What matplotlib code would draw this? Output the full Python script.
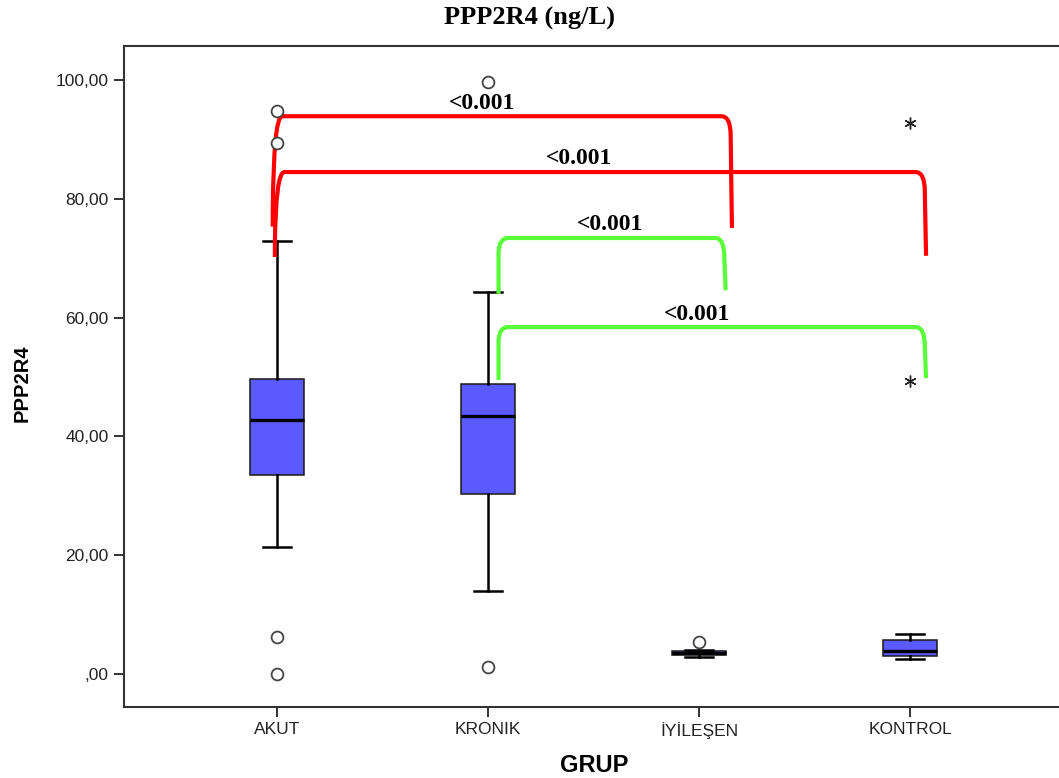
import matplotlib

matplotlib.use("Agg")
import matplotlib.pyplot as plt
from matplotlib.path import Path
from matplotlib.patches import PathPatch

# ---- data -----------------------------------------------------------------
groups = ["AKUT", "KRONIK", "İYİLEŞEN", "KONTROL"]
whisker_lo = [21.4, 14.0, 2.8, 2.5]
q1 = [33.5, 30.3, 3.2, 3.0]
median = [42.8, 43.4, 3.6, 3.8]
q3 = [49.7, 48.8, 3.9, 5.7]
whisker_hi = [72.9, 64.3, 4.0, 6.8]
outliers = [[94.8, 89.4, 6.2, 0.0], [99.7, 1.2], [5.3], []]
extremes = [[], [], [], [92.8, 49.3]]

# pairwise comparisons: left x, right x, bar height, left foot, right foot
cmp_x0 = [0.98, 0.99, 2.05, 2.05]
cmp_x1 = [3.15, 4.07, 3.12, 4.07]
cmp_top = [93.9, 84.5, 73.4, 58.4]
cmp_foot0 = [75.3, 70.2, 64.0, 49.5]
cmp_foot1 = [75.1, 70.4, 64.6, 49.8]
cmp_label = ["<0.001", "<0.001", "<0.001", "<0.001"]
cmp_label_x = [1.97, 2.43, 2.58, 2.99]
cmp_color = ["#ff0000", "#ff0000", "#58ff38", "#58ff38"]
cmp_bend = [0.85, 0.85, 0.25, 0.25]   # share of the left leg that curves

yticks = [0, 20, 40, 60, 80, 100]
ytick_labels = [",00", "20,00", "40,00", "60,00", "80,00", "100,00"]

BOX = "#5a5aff"
EDGE = "#1a1a1a"
SPINE = "#333333"

W, H = 1059, 778
fig = plt.figure(figsize=(W / 100, H / 100), dpi=100)
ax = fig.add_axes([124 / W, 1 - 707 / H, 1 - 124 / W, (707 - 46) / H])

stats = []
for i, g in enumerate(groups):
    stats.append(dict(label=g, whislo=whisker_lo[i], q1=q1[i], med=median[i],
                      q3=q3[i], whishi=whisker_hi[i], fliers=[]))

pos = [1, 2, 3, 4]
ax.bxp(stats, positions=pos, widths=0.26, patch_artist=True, showfliers=False,
       boxprops=dict(facecolor=BOX, edgecolor=EDGE, linewidth=1.1),
       medianprops=dict(color="black", linewidth=2.4),
       whiskerprops=dict(color="black", linewidth=1.8),
       capprops=dict(color="black", linewidth=1.8),
       capwidths=0.13)

for p, vals in zip(pos, outliers):
    if vals:
        ax.plot([p] * len(vals), vals, ls="none", marker="o", ms=8.5,
                mfc="white", mec="#444444", mew=1.3, zorder=4)
for p, vals in zip(pos, extremes):
    if vals:
        ax.plot([p] * len(vals), vals, ls="none", marker=(6, 2, 0), ms=8.5,
                color="#222222", mew=1.0, zorder=4)

# significance brackets with rounded shoulders
dx, dy = 0.045, 3.2
for i in range(len(cmp_x0)):
    x0, x1, top = cmp_x0[i], cmp_x1[i], cmp_top[i]
    f0, f1 = cmp_foot0[i], cmp_foot1[i]
    bend = cmp_bend[i] * (top - f0)
    verts = [
        (x0, f0),
        (x0, top - bend),
        (x0 + 0.004, top), (x0 + dx, top),
        (x1 - dx, top),
        (x1, top), (x1, top - dy),
        (x1 + 0.006, f1),
    ]
    codes = [Path.MOVETO, Path.LINETO, Path.CURVE3, Path.CURVE3, Path.LINETO,
             Path.CURVE3, Path.CURVE3, Path.LINETO]
    ax.add_patch(PathPatch(Path(verts, codes), fill=False, edgecolor=cmp_color[i],
                           linewidth=3.0, capstyle="butt", zorder=3))
    ax.text(cmp_label_x[i], top + 2.2, cmp_label[i], ha="center", va="center",
            fontsize=17, fontweight="bold", family="Liberation Serif", zorder=5)

ax.set_xlim(0.275, 4.706)
ax.set_ylim(-5.56, 105.72)
ax.set_yticks(yticks)
ax.set_yticklabels(ytick_labels)
ax.set_xticks(pos)
ax.set_xticklabels(groups)

for side in ("left", "bottom", "top"):
    ax.spines[side].set_linewidth(1.5)
    ax.spines[side].set_color(SPINE)
ax.spines["right"].set_visible(False)
ax.tick_params(axis="both", direction="out", length=7, width=1.4, color=SPINE,
               labelsize=12.5, labelcolor="#222222", pad=4)
for lab in ax.get_xticklabels() + ax.get_yticklabels():
    lab.set_family("Liberation Sans")

fig.text(529 / W, 1 - 18 / H, "PPP2R4 (ng/L)", ha="center", va="center",
         fontsize=19, fontweight="bold", family="Liberation Serif")
fig.text(22 / W, 1 - 383 / H, "PPP2R4", ha="center", va="center", rotation=90,
         fontsize=14.5, fontweight="bold", family="Liberation Sans")
fig.text(594 / W, 1 - 765 / H, "GRUP", ha="center", va="center",
         fontsize=17, fontweight="bold", family="Liberation Sans")

fig.savefig("out.png", dpi=100)
